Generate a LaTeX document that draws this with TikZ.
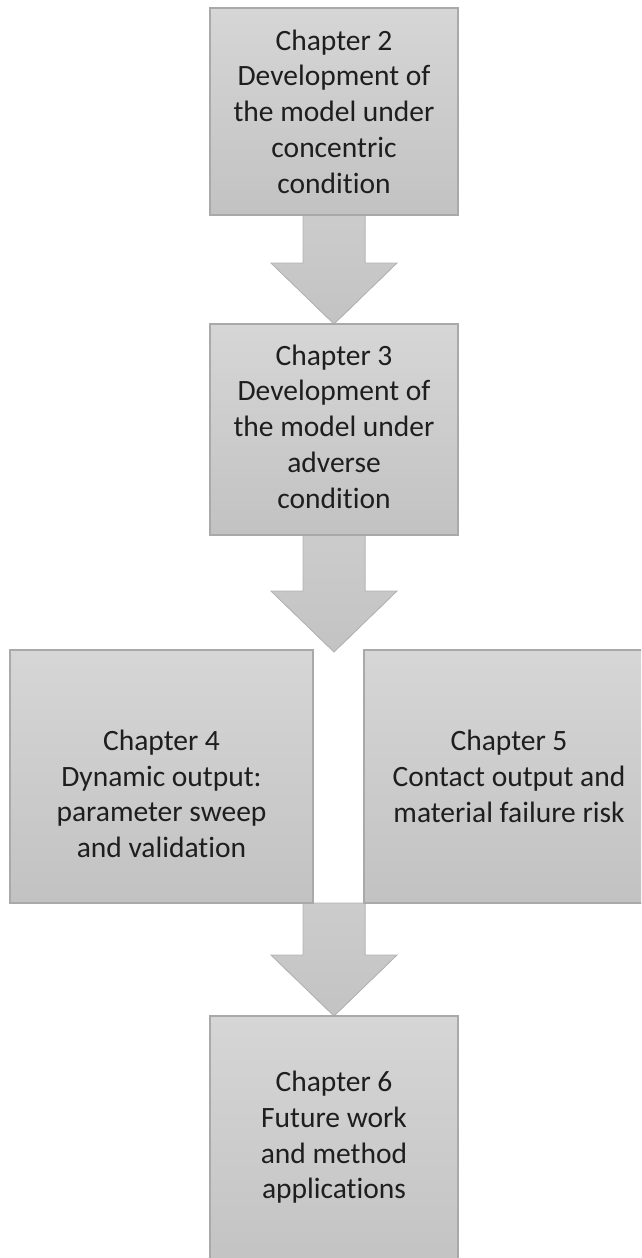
\documentclass[tikz,border=0pt]{standalone}
\usepackage{fontspec}
\setmainfont{Carlito}[Ligatures={NoCommon}]
\usetikzlibrary{calc}
\definecolor{boxtop}{HTML}{D6D6D6}
\definecolor{boxbot}{HTML}{C2C2C2}
\definecolor{boxedge}{HTML}{A9A9A9}
\definecolor{arrtop}{HTML}{CCCCCC}
\definecolor{arrbot}{HTML}{C3C3C3}
\definecolor{arredge}{HTML}{B3B3B3}
\definecolor{txt}{HTML}{1E1E1E}
\newcommand\fatarrow[2]{%
  \filldraw[fatarrow] ($(#1)+(-31,0)$) -- ($(#2)+(-31,-61)$) -- ($(#2)+(-63,-61)$)
    -- (#2) -- ($(#2)+(63,-61)$) -- ($(#2)+(31,-61)$) -- ($(#1)+(31,0)$) -- cycle;}
\begin{document}
\begin{tikzpicture}[x=1pt,y=-1pt,
  chapbox/.style={draw=boxedge, line width=1.2pt, top color=boxtop, bottom color=boxbot,
    inner sep=0pt, minimum width=248pt},
  chaptext/.style={text=txt, align=center, inner sep=0pt,
    font=\fontsize{29.5}{35.7}\selectfont},
  fatarrow/.style={draw=arredge, line width=0.8pt, top color=arrtop, bottom color=arrbot}]
\useasboundingbox (0,0) rectangle (641,1258);
\clip (0,0) rectangle (641,1258);
\fill[white] (0,0) rectangle (641,1258);
% arrow end points (arrows drawn first, boxes above them)
\coordinate (s1) at (334,210);
\coordinate (p2) at (334,324);
\coordinate (s2) at (334,530);
\coordinate (p4) at (334,652);
\coordinate (s4) at (334,903);
\coordinate (p6) at (334,1016);
\fatarrow{s1}{p2}
\fatarrow{s2}{p4}
\fatarrow{s4}{p6}
% boxes
\node[chapbox, minimum height=207pt] (b1) at (334,111.5) {};
\node[chapbox, minimum height=211pt] (b2) at (334,429.5) {};
\node[chapbox, minimum width=303pt, minimum height=253pt] (b4) at (161.5,776.5) {};
\node[chapbox, minimum width=294pt, minimum height=253pt] (b5) at (511,776.5) {};
\node[chapbox, minimum height=260pt] (b6) at (334,1146) {};
% texts
\node[chaptext] (t1) at ($(b1.center)+(0,0)$) {Chapter 2\\Development of\\the model under\\concentric\\condition};
\node[chaptext] (t2) at ($(b2.center)+(0,-3)$) {Chapter 3\\Development of\\the model under\\adverse\\condition};
\node[chaptext] (t4) at ($(b4.center)+(0,17.5)$) {Chapter 4\\Dynamic output:\\parameter sweep\\and validation};
\node[chaptext] (t5) at ($(b5.center)+(-2,0)$) {Chapter 5\\Contact output and\\material failure risk};
\node[chaptext] (t6) at ($(b6.center)+(0,-8.5)$) {Chapter 6\\Future work\\and method\\applications};
\end{tikzpicture}
\end{document}
